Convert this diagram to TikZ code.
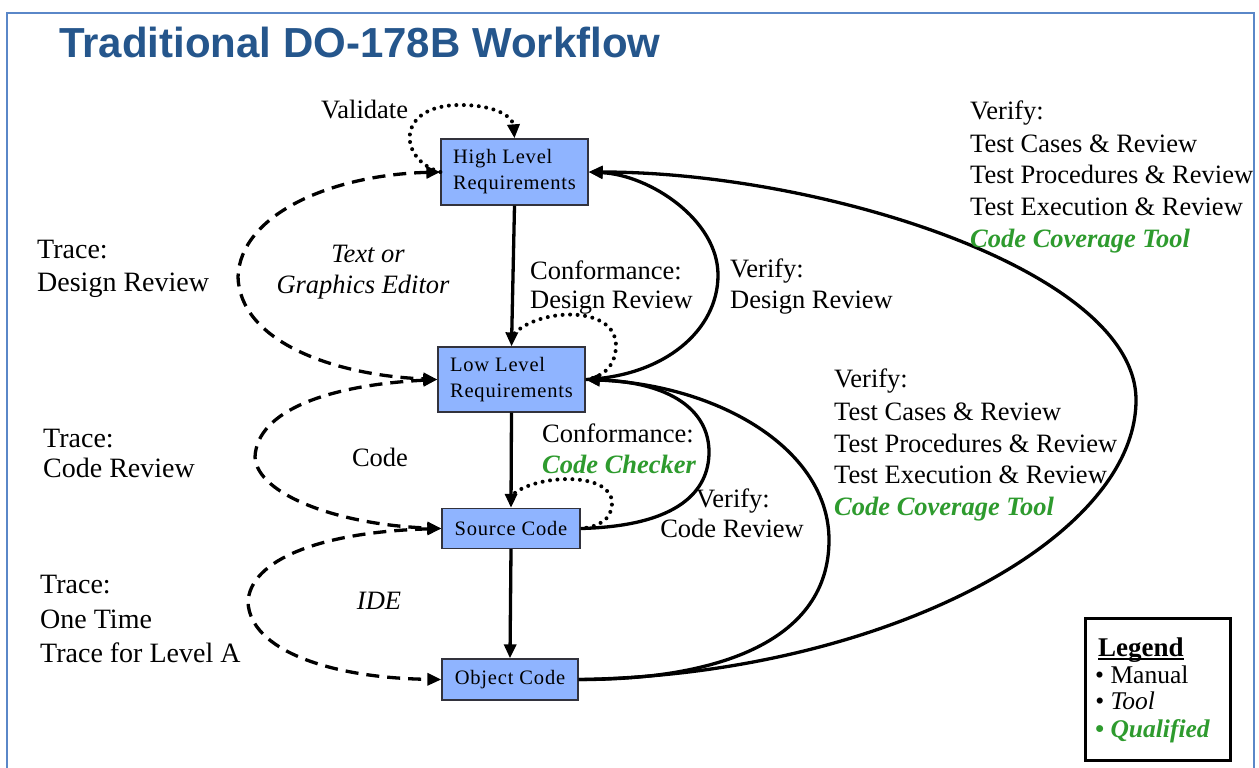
\documentclass[tikz,border=0pt]{standalone}
\usepackage{fontspec}
\setmainfont{Liberation Serif}
\newfontfamily\titlefont{Liberation Sans}
\newfontfamily\boxfont[LetterSpace=4]{Liberation Serif}
\usetikzlibrary{arrows.meta,calc}
\definecolor{titleblue}{RGB}{37,86,140}
\definecolor{framecol}{RGB}{90,135,200}
\definecolor{boxfill}{RGB}{143,180,255}
\definecolor{boxline}{RGB}{50,50,60}
\definecolor{qgreen}{RGB}{46,155,46}
\begin{document}
\begin{tikzpicture}[x=1pt,y=-1pt,
  box/.style={draw=boxline, line width=1.3pt, fill=boxfill, align=left, inner sep=0pt,
    font=\boxfont\fontsize{20.5}{26}\selectfont},
  lbl/.style={anchor=base west, inner sep=0pt, font=\fontsize{26.5}{31}\selectfont},
  lblc/.style={anchor=base, inner sep=0pt, font=\fontsize{26.5}{31}\selectfont},
  trc/.style={anchor=base west, inner sep=0pt, font=\fontsize{28}{33}\selectfont},
  qual/.style={text=qgreen, font=\fontsize{26.5}{31}\selectfont\bfseries\itshape},
  sline/.style={line width=3.3pt},
  dline/.style={line width=3.3pt, dash pattern=on 13pt off 8pt},
  oline/.style={line width=4pt, dash pattern=on 0pt off 7.5pt, line cap=round},
  endarrow/.style={-{Triangle[length=14pt,width=12pt]}},
  bothends/.style={{Triangle[length=14pt,width=12pt]}-{Triangle[length=14pt,width=12pt]}},
  leg/.style={anchor=base west, inner sep=0pt, font=\fontsize{25.5}{28}\selectfont}
]
\useasboundingbox (0,0) rectangle (1259,768);
\fill[white] (0,0) rectangle (1259,768);
% frame
\draw[framecol, line width=2.5pt] (7,768) -- (7,13) -- (1254,13) -- (1254,768);
% title
\node[anchor=base west, inner sep=0pt, text=titleblue, font=\titlefont\bfseries\fontsize{42}{48}\selectfont] (title) at (59,58) {Traditional DO-178B Workflow};

% boxes
\node[box, minimum width=147pt, minimum height=66pt] (hlr) at (514.5,172) {High Level\\Requirements};
\node[box, minimum width=147pt, minimum height=65pt] (llr) at (511.5,379.5) {Low Level\\Requirements};
\node[box, minimum width=138pt, minimum height=40pt] (sc) at (511,528.5) {Source Code};
\node[box, minimum width=136pt, minimum height=41pt] (oc) at (510,679.5) {Object Code};

% vertical flow
\draw[sline, endarrow] (hlr.south) -- (llr.north);
\draw[sline, endarrow] (llr.south) -- (sc.north);
\draw[sline, endarrow] (sc.south) -- (oc.north);

% dashed trace loops
\draw[dline, bothends] (hlr.west) .. controls (330,175) and (240,215) .. (238,277)
  .. controls (240,340) and (330,375) .. (llr.west);
\draw[dline, bothends] (llr.west) .. controls (330,385) and (257,410) .. (255,457)
  .. controls (257,495) and (340,525) .. (sc.west);
\draw[dline, bothends] (sc.west) .. controls (320,532) and (250,560) .. (248,602)
  .. controls (250,650) and (330,678) .. (oc.west);

% dotted self loops
\draw[oline, endarrow] (hlr.west) .. controls (398,160) and (395,105) .. (460,105)
  .. controls (498,105) and (513,118) .. (hlr.north);
\draw[oline] ($(llr.north)+(3,-13)$) .. controls (540,308) and (615,305) .. (616,345)
  .. controls (616,368) and (600,378) .. (llr.east);
\draw[oline] ($(sc.north)+(4,-15)$) .. controls (540,474) and (612,472) .. (612,503)
  .. controls (612,520) and (598,527) .. (sc.east);

% solid verify curves
\draw[sline, endarrow] (llr.east) .. controls (665,376) and (718,330) .. (718,275)
  .. controls (718,220) and (650,175) .. (hlr.east);
\draw[sline, endarrow] (sc.east) .. controls (680,526) and (709,490) .. (709,452)
  .. controls (709,410) and (670,382) .. (llr.east);
\draw[sline, endarrow] (oc.east) .. controls (720,680) and (829,640) .. (829,540)
  .. controls (829,450) and (720,385) .. (llr.east);
\draw[sline, endarrow] (oc.east) .. controls (880,675) and (1136,540) .. (1136,400)
  .. controls (1136,270) and (820,172) .. (hlr.east);

% labels
\node[lbl] (val) at (321,118) {Validate};
\node[trc] (tr1a) at (37,258) {Trace:};
\node[trc] (tr1b) at (37,291) {Design Review};
\node[lblc, font=\fontsize{26.5}{31}\selectfont\itshape] (ed1) at (368,262) {Text or};
\node[lblc, font=\fontsize{26.5}{31}\selectfont\itshape] (ed2) at (363,293) {Graphics Editor};
\node[trc] (tr2a) at (43,447) {Trace:};
\node[trc] (tr2b) at (43,477) {Code Review};
\node[lblc] (code) at (380,466) {Code};
\node[trc] (tr3a) at (40,593) {Trace:};
\node[trc] (tr3b) at (40,628) {One Time};
\node[trc] (tr3c) at (40,662) {Trace for Level A};
\node[lblc, font=\fontsize{26.5}{31}\selectfont\itshape] (ide) at (379,609) {IDE};

\node[lbl] (cf1a) at (530,279) {Conformance:};
\node[lbl] (cf1b) at (530,308) {Design Review};
\node[lbl] (vf1a) at (730,277) {Verify:};
\node[lbl] (vf1b) at (730,308) {Design Review};
\node[lbl] (cf2a) at (542,442) {Conformance:};
\node[lbl, qual] (cf2b) at (542,473) {Code Checker};
\node[lblc] (vf2a) at (733,507) {Verify:};
\node[lblc] (vf2b) at (732,537) {Code Review};

\node[lbl] (vf3a) at (834,387) {Verify:};
\node[lbl] (vf3b) at (834,420) {Test Cases \& Review};
\node[lbl] (vf3c) at (834,452) {Test Procedures \& Review};
\node[lbl] (vf3d) at (834,483) {Test Execution \& Review};
\node[lbl, qual] (vf3e) at (834,515) {Code Coverage Tool};

\node[lbl] (vf4a) at (970,120) {Verify:};
\node[lbl] (vf4b) at (970,152) {Test Cases \& Review};
\node[lbl] (vf4c) at (970,183) {Test Procedures \& Review};
\node[lbl] (vf4d) at (970,215) {Test Execution \& Review};
\node[lbl, qual] (vf4e) at (970,247) {Code Coverage Tool};

% legend
\node[draw, line width=3pt, minimum width=145pt, minimum height=142pt, inner sep=0pt] (legend) at (1157.5,689) {};
\node[anchor=base west, inner sep=0pt, font=\fontsize{27}{30}\selectfont\bfseries] (lgt) at (1098,656) {Legend};
\draw[line width=1.5pt] ([yshift=-3pt]lgt.base west) -- ([yshift=-3pt]lgt.base east);
\node[leg] (lg1) at (1095,683) {• Manual};
\node[leg, font=\fontsize{25.5}{28}\selectfont\itshape] (lg2) at (1095,709) {• Tool};
\node[leg, text=qgreen, font=\fontsize{25.5}{28}\selectfont\bfseries\itshape] (lg3) at (1095,737) {• Qualified};
\end{tikzpicture}
\end{document}
